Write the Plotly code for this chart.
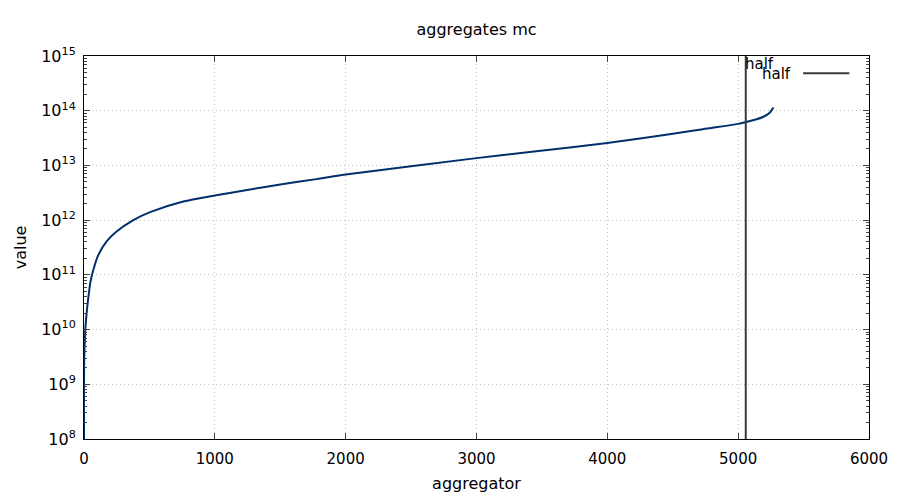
import plotly.graph_objects as go

# values (aggregator index -> value)
agg_x = [0, 2, 10, 20, 31, 50, 71, 109, 173, 249, 377, 505, 759, 1000,
         1269, 1524, 1778, 2000, 3000, 3456, 4000, 4475, 4730, 5000, 5061,
         5185, 5239, 5269]
agg_y = [1.0e8, 3.2e9, 1.0e10, 2.0e10, 3.5e10, 7.6e10, 1.23e11, 2.3e11, 4.1e11,
         6.2e11, 1.0e12, 1.40e12, 2.19e12, 2.82e12,
         3.63e12, 4.57e12, 5.62e12, 6.8e12, 1.36e13, 1.82e13, 2.57e13, 3.7e13,
         4.6e13, 5.75e13, 6.2e13, 7.6e13, 9.1e13, 1.15e14]

half_x = [5058, 5058]
half_y = [1e8, 1e15]

x_ticks = [0, 1000, 2000, 3000, 4000, 5000, 6000]
y_tickvals = [1e8, 1e9, 1e10, 1e11, 1e12, 1e13, 1e14, 1e15]
y_ticktext = ["10<sup>%d</sup>" % e for e in range(8, 16)]

FONT = "DejaVu Sans"
grid = "#c4c4c4"

fig = go.Figure()
fig.add_trace(go.Scatter(x=agg_x, y=agg_y, mode="lines",
                         line=dict(color="#002f6c", width=2, shape="spline", smoothing=0.8),
                         showlegend=False))
fig.add_trace(go.Scatter(x=half_x, y=half_y, mode="lines", name="half",
                         line=dict(color="#3a3a3a", width=2), showlegend=False))

# gnuplot style key: text on the left, sample on the right
fig.add_annotation(text="half", xref="paper", yref="paper", x=0.903, y=0.953,
                   xanchor="right", yanchor="middle", showarrow=False,
                   font=dict(family=FONT, size=15, color="#000"))
fig.add_shape(type="line", xref="paper", yref="paper", x0=0.916, x1=0.975,
              y0=0.955, y1=0.955, line=dict(color="#3a3a3a", width=2))
# label next to the vertical line
fig.add_annotation(text="half", x=half_x[0], xref="x", yref="paper", y=0.979,
                   xanchor="left", yanchor="middle", showarrow=False, xshift=-3,
                   font=dict(family=FONT, size=15, color="#000"))

# the page has an 8px body margin, so the margins are shifted to compensate
fig.update_layout(
    width=900, height=500,
    margin=dict(l=76, r=39, t=48, b=69),
    paper_bgcolor="white", plot_bgcolor="white",
    font=dict(family=FONT, size=15, color="#000"),
    title=dict(text="aggregates mc", x=(76 + 785 / 2) / 900, xanchor="center",
               y=1 - 21 / 500, yanchor="middle", font=dict(size=16)),
)
fig.update_xaxes(
    range=[0, 6000], tickvals=x_ticks, ticks="inside", ticklen=6,
    tickfont=dict(size=15), ticklabelstandoff=6,
    showline=True, linecolor="#000", linewidth=1, mirror="allticks",
    showgrid=True, gridcolor=grid, griddash="1px,3px", gridwidth=1,
    zeroline=False, title=dict(text="aggregator", standoff=10, font=dict(size=16)),
)
fig.update_yaxes(
    type="log", range=[8, 15], tickvals=y_tickvals, ticktext=y_ticktext,
    tickfont=dict(size=16), ticklabelstandoff=4,
    ticks="inside", ticklen=6, showline=True, linecolor="#000", linewidth=1,
    mirror="allticks", showgrid=True, gridcolor=grid, griddash="1px,3px", gridwidth=1,
    zeroline=False, title=dict(text="value", standoff=10, font=dict(size=16)),
    minor=dict(dtick="D1", ticks="inside", ticklen=3, showgrid=False),
)

fig.write_html("out.html")
